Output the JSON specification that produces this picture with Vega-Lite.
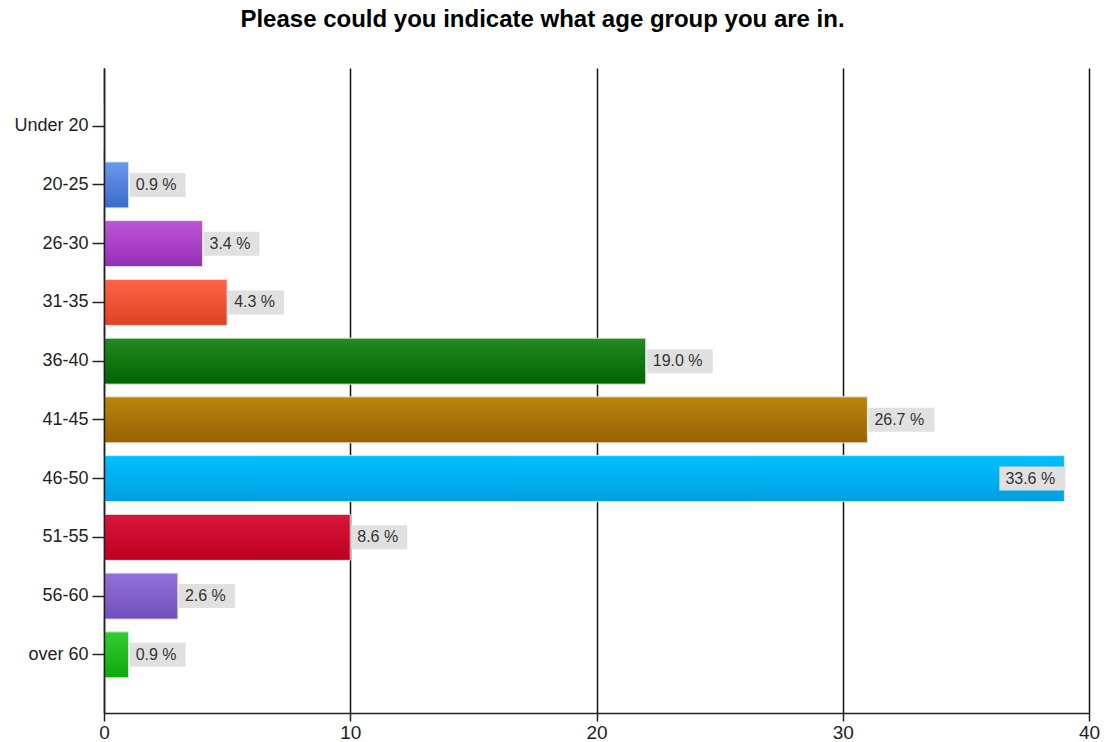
{
  "$schema": "https://vega.github.io/schema/vega-lite/v6.json",
  "width": 985,
  "height": 645,
  "padding": {"left": 13, "top": 8, "right": 0, "bottom": 0},
  "background": "white",
  "title": {
    "text": "Please could you indicate what age group you are in.",
    "font": "Liberation Sans",
    "fontSize": 24,
    "fontWeight": "bold",
    "color": "#000000",
    "anchor": "middle",
    "dx": -54,
    "offset": 36
  },
  "config": {
    "view": {"stroke": null},
    "font": "Liberation Sans"
  },
  "data": {
    "values": [
      {"age": "Under 20", "count": 0, "pct": 0.0, "label": ""},
      {"age": "20-25", "count": 1, "pct": 0.9, "label": "0.9 %"},
      {"age": "26-30", "count": 4, "pct": 3.4, "label": "3.4 %"},
      {"age": "31-35", "count": 5, "pct": 4.3, "label": "4.3 %"},
      {"age": "36-40", "count": 22, "pct": 19.0, "label": "19.0 %"},
      {"age": "41-45", "count": 31, "pct": 26.7, "label": "26.7 %"},
      {"age": "46-50", "count": 39, "pct": 33.6, "label": "33.6 %"},
      {"age": "51-55", "count": 10, "pct": 8.6, "label": "8.6 %"},
      {"age": "56-60", "count": 3, "pct": 2.6, "label": "2.6 %"},
      {"age": "over 60", "count": 1, "pct": 0.9, "label": "0.9 %"}
    ]
  },
  "encoding": {
    "y": {
      "field": "age",
      "type": "nominal",
      "sort": null,
      "scale": {"paddingInner": 0.217, "paddingOuter": 0.598},
      "axis": {
        "title": null,
        "zindex": 1,
        "domainColor": "#222222",
        "domainWidth": 1.5,
        "tickColor": "#222222",
        "tickWidth": 1.5,
        "tickSize": 12,
        "labelFontSize": 18,
        "labelColor": "#222222",
        "labelPadding": 4,
        "labelFont": "Liberation Sans"
      }
    },
    "x": {
      "field": "count",
      "type": "quantitative",
      "scale": {"domain": [0, 40], "nice": false},
      "axis": {
        "title": null,
        "values": [0, 10, 20, 30, 40],
        "grid": true,
        "gridColor": "#111111",
        "gridWidth": 1.5,
        "gridOpacity": 1,
        "domainColor": "#222222",
        "domainWidth": 1.5,
        "tickColor": "#222222",
        "tickWidth": 1.5,
        "tickSize": 8,
        "labelFontSize": 19,
        "labelColor": "#222222",
        "labelPadding": 2,
        "labelFont": "Liberation Sans",
        "labelFlush": false
      }
    }
  },
  "layer": [
    {
      "mark": {"type": "bar", "stroke": "#e4e4e4", "strokeWidth": 1},
      "encoding": {
        "fill": {
          "condition": [
            {"test": "datum.age === '20-25'", "value": {"gradient": "linear", "x1": 0, "y1": 0, "x2": 0, "y2": 1, "stops": [{"offset": 0, "color": "#6a98ee"}, {"offset": 1, "color": "#3a6ccc"}]}},
            {"test": "datum.age === '26-30'", "value": {"gradient": "linear", "x1": 0, "y1": 0, "x2": 0, "y2": 1, "stops": [{"offset": 0, "color": "#bc55d6"}, {"offset": 1, "color": "#952fb8"}]}},
            {"test": "datum.age === '31-35'", "value": {"gradient": "linear", "x1": 0, "y1": 0, "x2": 0, "y2": 1, "stops": [{"offset": 0, "color": "#ff6447"}, {"offset": 1, "color": "#dc4322"}]}},
            {"test": "datum.age === '36-40'", "value": {"gradient": "linear", "x1": 0, "y1": 0, "x2": 0, "y2": 1, "stops": [{"offset": 0, "color": "#238b23"}, {"offset": 1, "color": "#006400"}]}},
            {"test": "datum.age === '41-45'", "value": {"gradient": "linear", "x1": 0, "y1": 0, "x2": 0, "y2": 1, "stops": [{"offset": 0, "color": "#b9860d"}, {"offset": 1, "color": "#976100"}]}},
            {"test": "datum.age === '46-50'", "value": {"gradient": "linear", "x1": 0, "y1": 0, "x2": 0, "y2": 1, "stops": [{"offset": 0, "color": "#00bfff"}, {"offset": 1, "color": "#009fe0"}]}},
            {"test": "datum.age === '51-55'", "value": {"gradient": "linear", "x1": 0, "y1": 0, "x2": 0, "y2": 1, "stops": [{"offset": 0, "color": "#dc143c"}, {"offset": 1, "color": "#bc0020"}]}},
            {"test": "datum.age === '56-60'", "value": {"gradient": "linear", "x1": 0, "y1": 0, "x2": 0, "y2": 1, "stops": [{"offset": 0, "color": "#9370db"}, {"offset": 1, "color": "#7050bc"}]}},
            {"test": "datum.age === 'over 60'", "value": {"gradient": "linear", "x1": 0, "y1": 0, "x2": 0, "y2": 1, "stops": [{"offset": 0, "color": "#33cd33"}, {"offset": 1, "color": "#0ea80e"}]}}
          ],
          "value": "#888888"
        }
      }
    },
    {
      "transform": [{"filter": "datum.count > 0 && datum.pct < 10"}],
      "mark": {"type": "point", "shape": "M-2.333,-1H2.333V1H-2.333Z", "size": 576, "filled": true, "color": "#e0e0e0", "opacity": 1, "strokeWidth": 0, "xOffset": 29}
    },
    {
      "transform": [{"filter": "datum.pct >= 10 && datum.pct < 30"}],
      "mark": {"type": "point", "shape": "M-2.75,-1H2.75V1H-2.75Z", "size": 576, "filled": true, "color": "#e0e0e0", "opacity": 1, "strokeWidth": 0, "xOffset": 34}
    },
    {
      "transform": [{"filter": "datum.pct >= 30"}],
      "mark": {"type": "point", "shape": "M-2.75,-1H2.75V1H-2.75Z", "size": 576, "filled": true, "color": "#e0e0e0", "opacity": 1, "strokeWidth": 0, "xOffset": -32}
    },
    {
      "transform": [{"filter": "datum.count > 0 && datum.pct < 30"}],
      "mark": {"type": "text", "align": "left", "baseline": "middle", "dx": 7, "fontSize": 16, "color": "#333333", "font": "Liberation Sans"},
      "encoding": {"text": {"field": "label"}}
    },
    {
      "transform": [{"filter": "datum.pct >= 30"}],
      "mark": {"type": "text", "align": "left", "baseline": "middle", "dx": -59, "fontSize": 16, "color": "#333333", "font": "Liberation Sans"},
      "encoding": {"text": {"field": "label"}}
    }
  ]
}
